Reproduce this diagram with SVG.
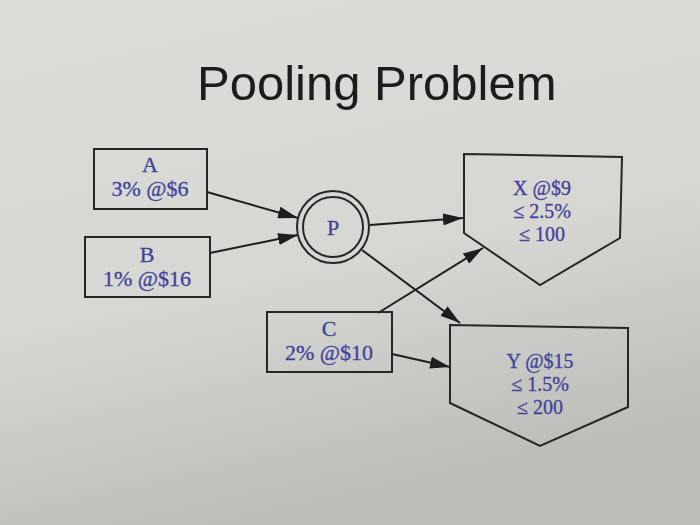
<svg xmlns="http://www.w3.org/2000/svg" width="700" height="525" viewBox="0 0 700 525">
<defs>
<linearGradient id="bg" x1="0" y1="0" x2="0.3" y2="1">
<stop offset="0" stop-color="#dcdcd8"/>
<stop offset="0.6" stop-color="#d6d6d2"/>
<stop offset="1" stop-color="#bdbdba"/>
</linearGradient>
<marker id="ah" viewBox="0 0 20 12" refX="20" refY="6" markerWidth="20" markerHeight="12" markerUnits="userSpaceOnUse" orient="auto">
<path d="M0,0 L20,6 L0,12 z" fill="#1e1e1e"/>
</marker>
</defs>
<style>
.shape{fill:none;stroke:#262626;stroke-width:2}
.lbl{font-family:"Liberation Serif","Times New Roman",serif;font-size:22px;fill:#40439a;stroke:#40439a;stroke-width:0.3;text-anchor:middle}
.sm{font-size:20px}
.edge{fill:none;stroke:#1e1e1e;stroke-width:2;marker-end:url(#ah)}
.title{font-family:"Liberation Sans",Arial,sans-serif;font-size:49px;fill:#1c1c1c}
</style>
<rect width="700" height="525" fill="url(#bg)"/>
<text class="title" x="197" y="100">Pooling Problem</text>
<g id="connectors">
<line class="edge" x1="207" y1="192" x2="298" y2="218"/>
<line class="edge" x1="210" y1="253" x2="298" y2="235"/>
<line class="edge" x1="370" y1="225" x2="463" y2="218"/>
<line class="edge" x1="362" y1="250" x2="460" y2="323"/>
<line class="edge" x1="378" y1="313" x2="483" y2="248"/>
<line class="edge" x1="392" y1="354" x2="450" y2="367"/>
</g>
<g id="A">
<rect class="shape" x="94" y="149" width="113" height="60"/>
<text class="lbl" x="150" y="172">A</text>
<text class="lbl" x="150" y="196">3% @$6</text>
</g>
<g id="B">
<rect class="shape" x="85" y="237" width="125" height="60"/>
<text class="lbl" x="147" y="262">B</text>
<text class="lbl" x="147" y="286">1% @$16</text>
</g>
<g id="P">
<circle class="shape" cx="333" cy="227" r="36"/>
<circle class="shape" cx="333" cy="227" r="30"/>
<text class="lbl" x="333" y="235">P</text>
</g>
<g id="X">
<polygon class="shape" points="464,154 622,157 620,238 540,285 464,233"/>
<text class="lbl sm" x="542" y="195">X @$9</text>
<text class="lbl sm" x="542" y="218">≤ 2.5%</text>
<text class="lbl sm" x="542" y="241">≤ 100</text>
</g>
<g id="C">
<rect class="shape" x="267" y="312" width="125" height="60"/>
<text class="lbl" x="329" y="336">C</text>
<text class="lbl" x="329" y="360">2% @$10</text>
</g>
<g id="Y">
<polygon class="shape" points="450,325 628,328 628,407 540,446 450,403"/>
<text class="lbl sm" x="540" y="368">Y @$15</text>
<text class="lbl sm" x="540" y="391">≤ 1.5%</text>
<text class="lbl sm" x="540" y="414">≤ 200</text>
</g>
</svg>
